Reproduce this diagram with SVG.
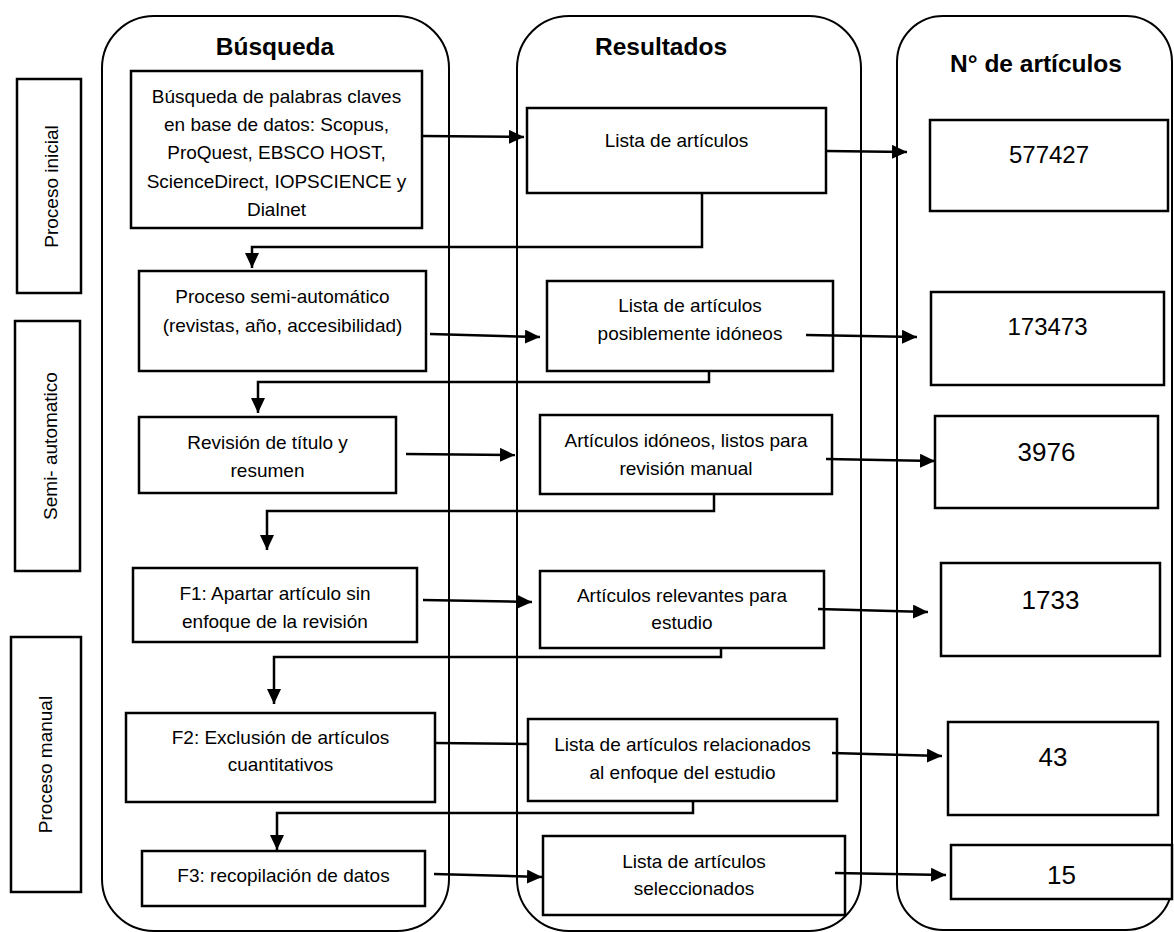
<svg xmlns="http://www.w3.org/2000/svg" width="1174" height="932" viewBox="0 0 1174 932">
<style>
.lane{fill:none;stroke:#000;stroke-width:2}
.box{fill:#fff;stroke:#000;stroke-width:2.5}
.side{fill:#fff;stroke:#000;stroke-width:2.5}
.t{font-family:"Liberation Sans",Arial,sans-serif;font-size:19px;fill:#000;text-anchor:middle;dominant-baseline:central}
.title{font-family:"Liberation Sans",Arial,sans-serif;font-size:24.5px;font-weight:bold;fill:#000;text-anchor:middle}
.n1{font-family:"Liberation Sans",Arial,sans-serif;font-size:24px;fill:#000;text-anchor:middle;dominant-baseline:central}
.n2{font-family:"Liberation Sans",Arial,sans-serif;font-size:26px;fill:#000;text-anchor:middle;dominant-baseline:central}
.c{fill:none;stroke:#000;stroke-width:2.5}
.a{marker-end:url(#ah)}
</style>
<defs>
<marker id="ah" markerUnits="userSpaceOnUse" markerWidth="15" markerHeight="14" refX="15" refY="7" orient="auto">
<path d="M0,0 L15,7 L0,14 z" fill="#000"/>
</marker>
</defs>
<rect width="1174" height="932" fill="#fff"/>

<g id="lanes">
<g id="lane-busqueda"><rect class="lane" x="102" y="16" width="347" height="915" rx="52" ry="52"/><text class="title" x="275" y="55">Búsqueda</text></g>
<g id="lane-resultados"><rect class="lane" x="517" y="16" width="344" height="915" rx="52" ry="52"/><text class="title" x="661" y="55">Resultados</text></g>
<g id="lane-narticulos"><rect class="lane" x="897" y="16" width="275" height="914" rx="46" ry="46"/><text class="title" x="1036" y="72">N° de artículos</text></g>
</g>

<g id="side-inicial"><rect class="side" x="17" y="79" width="64" height="214"/><text class="t" transform="translate(51.5,186.5) rotate(-90)" x="0" y="0">Proceso inicial</text></g>
<g id="side-semi"><rect class="side" x="15" y="321" width="65" height="250"/><text class="t" transform="translate(50,446) rotate(-90)" x="0" y="0">Semi- automatico</text></g>
<g id="side-manual"><rect class="side" x="11" y="637" width="70" height="255"/><text class="t" transform="translate(45,764.5) rotate(-90)" x="0" y="0">Proceso manual</text></g>

<g id="b1"><rect class="box" x="131" y="71" width="291" height="157"/>
<text class="t" x="276.5" y="96.3">Búsqueda de palabras claves</text>
<text class="t" x="276.5" y="124.5">en base de datos: Scopus,</text>
<text class="t" x="276.5" y="152.8">ProQuest, EBSCO HOST,</text>
<text class="t" x="276.5" y="181">ScienceDirect, IOPSCIENCE y</text>
<text class="t" x="276.5" y="209.5">Dialnet</text></g>
<g id="b2"><rect class="box" x="139" y="271" width="287" height="100"/>
<text class="t" x="282.5" y="296.7">Proceso semi-automático</text>
<text class="t" x="282.5" y="325">(revistas, año, accesibilidad)</text></g>
<g id="b3"><rect class="box" x="139" y="417" width="257" height="76"/>
<text class="t" x="267.5" y="442.5">Revisión de título y</text>
<text class="t" x="267.5" y="470">resumen</text></g>
<g id="b4"><rect class="box" x="133" y="568" width="284" height="74"/>
<text class="t" x="275" y="593.7">F1: Apartar artículo sin</text>
<text class="t" x="275" y="621">enfoque de la revisión</text></g>
<g id="b5"><rect class="box" x="126" y="713" width="309" height="89"/>
<text class="t" x="280.5" y="737">F2: Exclusión de artículos</text>
<text class="t" x="280.5" y="764.5">cuantitativos</text></g>
<g id="b6"><rect class="box" x="142" y="851" width="283" height="55"/>
<text class="t" x="283.5" y="875">F3: recopilación de datos</text></g>

<g id="r1"><rect class="box" x="527" y="108" width="299" height="85"/>
<text class="t" x="676.5" y="140">Lista de artículos</text></g>
<g id="r2"><rect class="box" x="547" y="281" width="286" height="90"/>
<text class="t" x="690" y="305.5">Lista de artículos</text>
<text class="t" x="690" y="333">posiblemente idóneos</text></g>
<g id="r3"><rect class="box" x="540" y="415" width="292" height="79"/>
<text class="t" x="686" y="440">Artículos idóneos, listos para</text>
<text class="t" x="686" y="468">revisión manual</text></g>
<g id="r4"><rect class="box" x="540" y="571" width="284" height="77"/>
<text class="t" x="682" y="595.5">Artículos relevantes para</text>
<text class="t" x="682" y="622.6">estudio</text></g>
<g id="r5"><rect class="box" x="528" y="719" width="309" height="82"/>
<text class="t" x="682.5" y="744.5">Lista de artículos relacionados</text>
<text class="t" x="682.5" y="772">al enfoque del estudio</text></g>
<g id="r6"><rect class="box" x="543" y="836" width="302" height="79"/>
<text class="t" x="694" y="861">Lista de artículos</text>
<text class="t" x="694" y="888.7">seleccionados</text></g>

<g id="n1"><rect class="box" x="930" y="120" width="238" height="91"/><text class="n1" x="1049" y="154.7">577427</text></g>
<g id="n2"><rect class="box" x="931" y="292" width="233" height="93"/><text class="n1" x="1047.5" y="326.7">173473</text></g>
<g id="n3"><rect class="box" x="935" y="416" width="223" height="92"/><text class="n2" x="1046.5" y="451.7">3976</text></g>
<g id="n4"><rect class="box" x="941" y="563" width="219" height="93"/><text class="n2" x="1050.5" y="599.7">1733</text></g>
<g id="n5"><rect class="box" x="948" y="722" width="210" height="93"/><text class="n2" x="1053" y="757">43</text></g>
<g id="n6"><rect class="box" x="951" y="845" width="221" height="54"/><text class="n2" x="1061.5" y="874.5">15</text></g>

<g id="connectors">
<path class="c a" d="M422,136 L524,137"/>
<path class="c a" d="M826,151 L907,152"/>
<path class="c a" d="M702,193 L702,247 L252,247 L252,268"/>
<path class="c a" d="M430,334 L540,337"/>
<path class="c a" d="M806,335 L917,337"/>
<path class="c a" d="M709,371 L709,382 L258,382 L258,413"/>
<path class="c a" d="M406,454 L515,455"/>
<path class="c a" d="M826,459 L935,461"/>
<path class="c a" d="M714,494 L714,511 L267,511 L267,550"/>
<path class="c a" d="M423,600 L532,602"/>
<path class="c a" d="M818,609 L928,612"/>
<path class="c a" d="M721,648 L721,657 L274,657 L274,704"/>
<path class="c" d="M435,743 L528,744"/>
<path class="c a" d="M832,753 L942,756"/>
<path class="c a" d="M693,801 L693,813 L277,813 L277,850"/>
<path class="c a" d="M434,874 L542,877"/>
<path class="c a" d="M835,873 L946,875"/>
</g>
</svg>
